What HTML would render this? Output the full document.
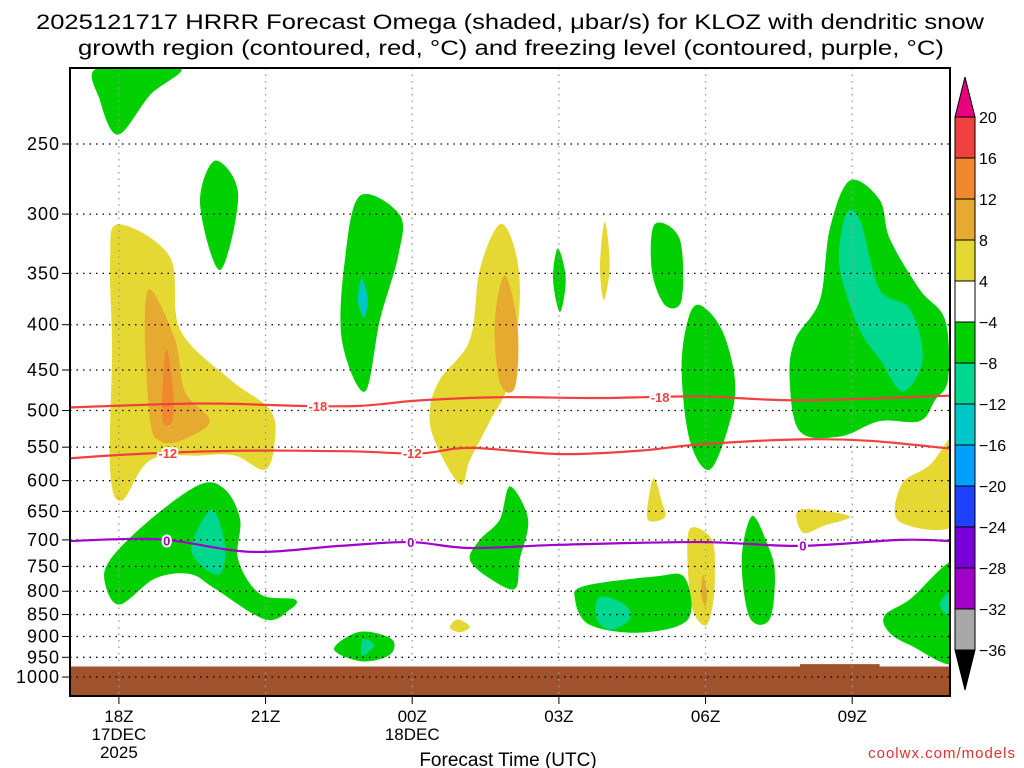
<!DOCTYPE html>
<html><head><meta charset="utf-8"><style>
html,body{margin:0;padding:0;background:#fff;}
svg{display:block;font-family:"Liberation Sans",sans-serif;}
</style></head><body>
<svg id="chart" width="1024" height="768" viewBox="0 0 1024 768">
<text x="510" y="29" text-anchor="middle" font-size="21" textLength="948" lengthAdjust="spacingAndGlyphs" fill="#000">2025121717 HRRR Forecast Omega (shaded, μbar/s) for KLOZ with dendritic snow</text>
<text x="511" y="55" text-anchor="middle" font-size="21" textLength="866" lengthAdjust="spacingAndGlyphs" fill="#000">growth region (contoured, red, °C) and freezing level (contoured, purple, °C)</text>
<g id="shades"></g>
<g id="ground"></g>
<g id="grid"></g>
<g id="lines"></g>
<rect x="70" y="68" width="880" height="628" fill="none" stroke="#000" stroke-width="2"/>
<g id="yaxis"></g>
<g id="xaxis"></g>
<text x="508" y="766" text-anchor="middle" font-size="19" fill="#000">Forecast Time (UTC)</text>
<text x="1016" y="758" text-anchor="end" font-size="15" fill="#e03030" letter-spacing="1">coolwx.com/models</text>
<g id="cbar"></g>
</svg>
<script>
const pTicks=[250,300,350,400,450,500,550,600,650,700,750,800,850,900,950,1000];
const xTickHours=[1,4,7,10,13,16];
const xTickLabels=[["18Z","17DEC","2025"],["21Z"],["00Z","18DEC"],["03Z"],["06Z"],["09Z"]];
const cbarLevels=[20,16,12,8,4,-4,-8,-12,-16,-20,-24,-28,-32,-36];
const cbarColors=["#f04040","#f08830","#e6aa30","#e6d832","#ffffff","#00d000","#00d890","#00c8c8","#00a0ff","#2040ff","#7800d8","#a000c8","#a8a8a8"];
// blobs: [color, [[hour,pressure],...]]
const blobs=[
["#00d000",[[0.57,205],[2.25,205],[1.64,220],[0.98,244],[0.61,223]]],
["#00d000",[[2.97,261],[3.44,285],[3.07,347],[2.66,292]]],
["#e6d832",[[0.98,308],[2.04,335],[2.25,405],[3.27,461],[4.09,499],[4.19,541],[3.99,583],[3.37,562],[2.66,562],[1.64,569],[1.06,632],[0.82,583],[0.86,426],[0.82,339]]],
["#e6aa30",[[1.64,365],[2.15,416],[2.35,476],[2.86,514],[2.25,541],[1.84,541],[1.64,514],[1.53,405]]],
["#f08830",[[1.98,426],[2.11,476],[2.09,514],[1.90,514],[1.90,461]]],
["#00d000",[[5.93,286],[6.75,301],[6.71,335],[6.34,395],[6.03,476],[5.56,416],[5.62,339]]],
["#00c8c8",[[5.97,355],[6.09,375],[6.01,393],[5.89,375]]],
["#e6d832",[[8.79,308],[9.1,329],[9.2,375],[9.0,461],[8.59,514],[8.18,569],[7.98,606],[7.46,541],[7.36,499],[7.57,461],[8.18,416],[8.38,347]]],
["#e6aa30",[[8.9,352],[9.16,405],[9.1,471],[8.79,465],[8.69,397]]],
["#00d000",[[9.98,328],[10.14,355],[10.02,387],[9.88,355]]],
["#e6d832",[[10.94,306],[11.04,343],[10.92,375],[10.84,343]]],
["#00d000",[[11.96,308],[12.47,320],[12.51,375],[12.17,380],[11.9,347]]],
["#00d000",[[12.88,380],[13.33,405],[13.6,461],[13.5,514],[13.09,583],[12.68,541],[12.51,450],[12.64,395]]],
["#00d000",[[15.95,275],[16.56,289],[16.77,320],[17.38,365],[17.9,395],[17.96,461],[17.69,487],[17.38,514],[16.56,514],[15.75,535],[14.93,528],[14.72,461],[14.83,416],[15.34,375],[15.54,312]]],
["#00d890",[[15.95,297],[16.19,308],[16.56,365],[17.18,384],[17.44,437],[17.03,476],[16.56,437],[16.15,405],[15.75,347],[15.79,312]]],
["#e6d832",[[18.2,530],[18.2,668],[16.97,668],[17.01,606],[17.59,576]]],
["#e6d832",[[11.96,597],[12.1,632],[12.17,660],[11.82,664],[11.86,617]]],
["#e6d832",[[14.93,647],[15.95,658],[15.44,674],[14.99,687]]],
["#e6d832",[[12.68,680],[13.13,700],[13.19,776],[13.13,840],[12.99,875],[12.74,840],[12.64,756]]],
["#e6aa30",[[12.95,766],[13.03,805],[12.99,832],[12.91,805]]],
["#00d000",[[2.66,606],[3.17,614],[3.48,664],[3.44,737],[3.89,806],[4.6,817],[4.5,839],[3.99,861],[2.97,795],[2.45,765],[1.74,774],[1.02,828],[0.72,785],[0.82,737],[1.64,664]]],
["#00d890",[[2.9,647],[3.17,709],[3.07,765],[2.66,746],[2.49,709]]],
["#00d000",[[9.0,609],[9.37,664],[9.2,737],[9.1,795],[8.59,774],[8.18,737],[8.38,700],[8.79,664]]],
["#00d000",[[11.96,770],[12.57,772],[12.64,861],[11.66,891],[10.63,873],[10.33,817],[10.53,789]]],
["#00d890",[[10.84,812],[11.35,828],[11.45,861],[11.04,884],[10.76,856]]],
["#00d000",[[13.95,658],[14.27,709],[14.42,765],[14.31,861],[13.9,856],[13.74,737]]],
["#00d000",[[18.2,740],[18.2,958],[17.18,920],[16.73,887],[16.67,851],[17.18,817]]],
["#00d890",[[17.79,828],[18.2,790],[18.2,866]]],
["#00d000",[[5.93,889],[6.58,906],[6.54,944],[5.97,960],[5.4,930]]],
["#00d890",[[5.99,906],[6.22,921],[5.97,946]]],
["#e6d832",[[7.93,861],[8.18,877],[7.98,890],[7.77,879]]]
];
const lineHours18=[0,2.66,4.7,5.93,7.16,8.79,10.84,12.88,14.93,18];
const lineP18=[496,491,494,494,487,483,484,482,487,481];
const lineHours12=[0,1.64,3.68,5.73,7.16,8.18,10.02,11.66,12.88,14.93,16.36,18];
const lineP12=[566,559,555,556,559,551,560,555,546,539,541,552];
const lineHours0=[0,1.84,3.68,5.52,6.95,8.18,10.02,12.88,14.93,16.97,18];
const lineP0=[702,699,722,711,704,715,709,704,711,700,702];
const labels18=[[5.07,"-18"],[12.07,"-18"]];
const labels12=[[2.0,"-12"],[7.0,"-12"]];
const labels0=[[1.98,"0"],[6.97,"0"],[14.99,"0"]];
const groundTop=973;
const groundBump=[[14.93,967],[16.56,967]];

const X0=70,X1=950,Y0=68,Y1=696,HMAX=18;
const xs=h=>X0+(h/HMAX)*(X1-X0);
const ys=p=>144+384.5*Math.log(p/250);
const NS="http://www.w3.org/2000/svg";
function mk(tag,attrs,parent){const e=document.createElementNS(NS,tag);for(const k in attrs)e.setAttribute(k,attrs[k]);parent.appendChild(e);return e;}
function closedPath(pts){
  const n=pts.length;let d=`M${pts[0][0]},${pts[0][1]}`;
  for(let i=0;i<n;i++){const p0=pts[(i-1+n)%n],p1=pts[i],p2=pts[(i+1)%n],p3=pts[(i+2)%n];
    const c1=[p1[0]+(p2[0]-p0[0])/6,p1[1]+(p2[1]-p0[1])/6],c2=[p2[0]-(p3[0]-p1[0])/6,p2[1]-(p3[1]-p1[1])/6];
    d+=`C${c1[0]},${c1[1]} ${c2[0]},${c2[1]} ${p2[0]},${p2[1]}`;}
  return d+"Z";}
function openPath(pts){let d=`M${pts[0][0]},${pts[0][1]}`;
  for(let i=0;i<pts.length-1;i++){const p0=pts[Math.max(0,i-1)],p1=pts[i],p2=pts[i+1],p3=pts[Math.min(pts.length-1,i+2)];
    d+=`C${p1[0]+(p2[0]-p0[0])/6},${p1[1]+(p2[1]-p0[1])/6} ${p2[0]-(p3[0]-p1[0])/6},${p2[1]-(p3[1]-p1[1])/6} ${p2[0]},${p2[1]}`;}
  return d;}
const svg=document.getElementById('chart');
const cp=mk('clipPath',{id:'clip'},svg);
mk('rect',{x:X0,y:Y0,width:X1-X0,height:Y1-Y0},cp);
const sh=document.getElementById('shades');sh.setAttribute('clip-path','url(#clip)');
blobs.forEach(b=>{const e=mk('path',{d:closedPath(b[1].map(q=>[xs(q[0]),ys(q[1])])),fill:b[0]},sh);

});
const g=document.getElementById('ground');
const gr=mk('rect',{x:X0,y:ys(groundTop),width:X1-X0,height:Y1-ys(groundTop),fill:'#a0522d'},g);


const gb=mk('rect',{x:xs(groundBump[0][0]),y:ys(groundBump[0][1]),width:xs(groundBump[1][0])-xs(groundBump[0][0]),height:ys(groundTop)-ys(groundBump[0][1])+1,fill:'#a0522d'},g);


const grid=document.getElementById('grid');const ya=document.getElementById('yaxis');
pTicks.forEach(p=>{const y=ys(p);
 const l=mk('line',{x1:X0,x2:X1,y1:y,y2:y,stroke:'#000','stroke-width':1.3,'stroke-dasharray':'1.5 5'},grid);
 
 
 mk('line',{x1:X0-8,x2:X0,y1:y,y2:y,stroke:'#000','stroke-width':1},ya);
 const t=mk('text',{x:X0-10,y:y+6,'text-anchor':'end','font-size':18,fill:'#000','letter-spacing':1},ya);t.textContent=p;
 
 });
const xa=document.getElementById('xaxis');
xTickHours.forEach((h,i)=>{const x=xs(h);
 const l=mk('line',{x1:x,x2:x,y1:Y0,y2:Y1,stroke:'#999','stroke-width':1.3,'stroke-dasharray':'1.5 5'},grid);
 
 
 mk('line',{x1:x,x2:x,y1:Y1,y2:Y1+8,stroke:'#000','stroke-width':1},xa);
 xTickLabels[i].forEach((s,j)=>{const t=mk('text',{x:x,y:722+j*18,'text-anchor':'middle','font-size':17,fill:'#000'},xa);t.textContent=s;
 
 });});
const ln=document.getElementById('lines');ln.setAttribute('clip-path','url(#clip)');
function drawLine(hs,ps,color,labs,name){
 const pts=hs.map((h,i)=>[xs(h),ys(ps[i])]);
 const e=mk('path',{d:openPath(pts),fill:'none',stroke:color,'stroke-width':2.2},ln);
 
 
 labs.forEach(L=>{const x=xs(L[0]);let k=0;while(k<hs.length-2&&hs[k+1]<L[0])k++;
  const f=(L[0]-hs[k])/(hs[k+1]-hs[k]);const y=pts[k][1]+f*(pts[k+1][1]-pts[k][1]);
  const t=mk('text',{x:x,y:y+5,'text-anchor':'middle','font-size':13,'font-weight':'bold',fill:color,stroke:'#fff','stroke-width':4,'paint-order':'stroke'},ln);t.textContent=L[1];
  
  });}
drawLine(lineHours18,lineP18,'#f04040',labels18,'minus18-contour');
drawLine(lineHours12,lineP12,'#f04040',labels12,'minus12-contour');
drawLine(lineHours0,lineP0,'#a000c8',labels0,'freezing-level');
const cb=document.getElementById('cbar');const CX=955,CW=20,CT=117,CH=41;
mk('polygon',{points:`${CX},${CT} ${CX+CW/2},${CT-40} ${CX+CW},${CT}`,fill:'#e8007f',stroke:'#000'},cb);
cbarColors.forEach((c,i)=>{const r=mk('rect',{x:CX,y:CT+i*CH,width:CW,height:CH,fill:c,stroke:'#000','stroke-width':1},cb);
 
 });
const cbot=CT+cbarColors.length*CH;
mk('polygon',{points:`${CX},${cbot} ${CX+CW/2},${cbot+40} ${CX+CW},${cbot}`,fill:'#000',stroke:'#000'},cb);
cbarLevels.forEach((v,i)=>{const t=mk('text',{x:CX+CW+4,y:CT+i*CH+6,'font-size':16,fill:'#000'},cb);
 t.textContent=v<0?'\u2212'+(-v):String(v);
 
 });
</script>
</body></html>
